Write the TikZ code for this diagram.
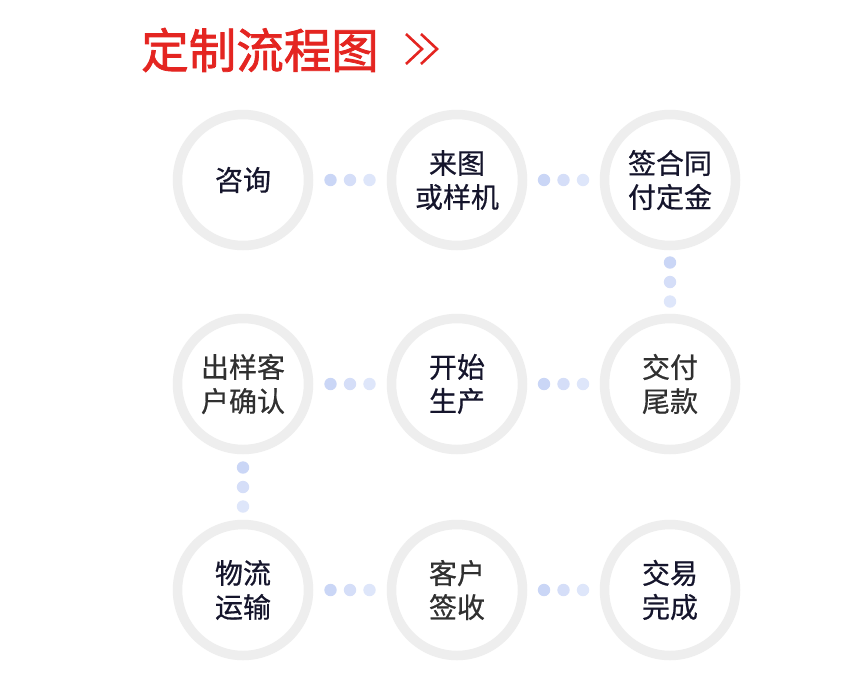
\documentclass[tikz,border=0pt]{standalone}
\usepackage{fontspec}
\newfontfamily\cjk[FakeBold=0.6]{Noto Sans CJK SC}
\newfontfamily\cjktitle[FakeBold=1.6]{Noto Sans CJK SC}
\usetikzlibrary{calc}
\definecolor{titlered}{HTML}{E42521}
\definecolor{ringgray}{HTML}{EEEEEE}
\definecolor{ringedge}{HTML}{E4E4E4}
\definecolor{navytext}{HTML}{15152C}
\definecolor{graytext}{HTML}{303030}
\definecolor{dotA}{HTML}{CAD6F6}
\definecolor{dotB}{HTML}{D5DEF8}
\definecolor{dotC}{HTML}{DEE6FA}
\tikzset{
  stagebox/.style={circle,fill=white,draw=ringgray,line width=9.5pt,
    minimum size=131pt,inner sep=0pt,align=center,text=navytext,
    font=\cjk\fontsize{28}{34}\selectfont,
    append after command={\pgfextra{\draw[ringedge,line width=0.8pt]
      (\tikzlastnode.center) circle (61);}}},
  softtext/.style={text=graytext},
}
\newcommand\rowdots[2]{%
  \fill[dotA] ($(#1)!0.5!(#2)+(-19.5,0)$) circle (6.2);
  \fill[dotB] ($(#1)!0.5!(#2)$) circle (6.2);
  \fill[dotC] ($(#1)!0.5!(#2)+(19.5,0)$) circle (6.2);}
\newcommand\coldots[2]{%
  \fill[dotA] ($(#1)!0.5!(#2)+(0,-19.5)$) circle (6.2);
  \fill[dotB] ($(#1)!0.5!(#2)$) circle (6.2);
  \fill[dotC] ($(#1)!0.5!(#2)+(0,19.5)$) circle (6.2);}
\begin{document}
\begin{tikzpicture}[x=1pt,y=-1pt]
  \useasboundingbox[fill=white] (0,0) rectangle (861,691);
  % title
  \node[text=titlered,font=\cjktitle\fontsize{47.5}{50}\selectfont] (title) at (260,50) {定制流程图};
  \draw[titlered,line width=2.6pt] (406,34) -- (422,49) -- (406,64)
    (421,34) -- (437,49) -- (421,64);
  % stages
  \node[stagebox] (zixun) at (243,180) {咨询};
  \node[stagebox] (laitu) at (457,180) {来图\\或样机};
  \node[stagebox] (qian) at (670,180) {签合同\\付定金};
  \node[stagebox,softtext] (weikuan) at (670,384) {交付\\尾款};
  \node[stagebox] (shengchan) at (457,384) {开始\\生产};
  \node[stagebox,softtext] (queren) at (243,384) {出样客\\户确认};
  \node[stagebox] (wuliu) at (243,590) {物流\\运输};
  \node[stagebox,softtext] (qianshou) at (457,590) {客户\\签收};
  \node[stagebox] (wancheng) at (670,590) {交易\\完成};
  % dots between the stages
  \rowdots{zixun}{laitu}
  \rowdots{laitu}{qian}
  \coldots{qian}{weikuan}
  \rowdots{queren}{shengchan}
  \rowdots{shengchan}{weikuan}
  \coldots{queren}{wuliu}
  \rowdots{wuliu}{qianshou}
  \rowdots{qianshou}{wancheng}
\end{tikzpicture}
\end{document}
